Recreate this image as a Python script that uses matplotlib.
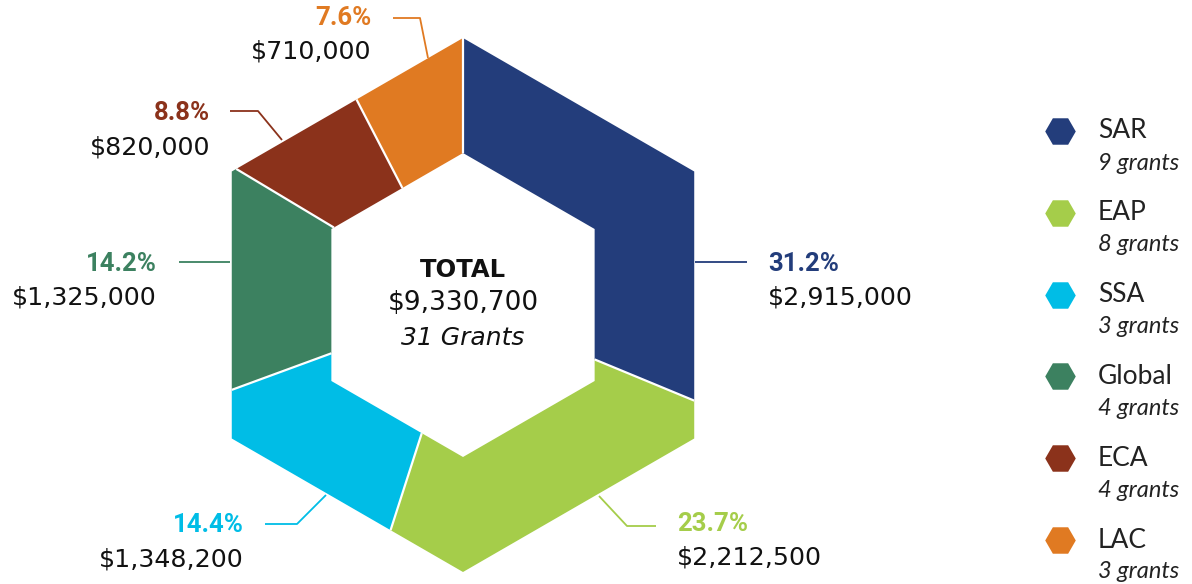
import numpy as np
import matplotlib
matplotlib.use("Agg")
import matplotlib.pyplot as plt

# ---- data ----
regions = ["SAR", "EAP", "SSA", "Global", "ECA", "LAC"]
amounts = [2915000, 2212500, 1348200, 1325000, 820000, 710000]
grants = [9, 8, 3, 4, 4, 3]
colors = ["#233D7B", "#A5CD4A", "#00BDE6", "#3C8160", "#8B321B", "#E07A22"]
total_amount = sum(amounts)
total_grants = 31

W, H = 1192, 584
fig = plt.figure(figsize=(W / 100, H / 100), dpi=100)
ax = fig.add_axes([0, 0, 1, 1])

MAIN = ["DejaVu Sans"]
PCT = ["Roboto", "DejaVu Sans"]
LEG = ["Lato", "DejaVu Sans"]

def py(y):  # pixel-from-top to data y
    return H - y

cx, cy = 463, py(305)
R_out, R_in = 267, 152


def hex_point(r, theta_deg):
    n = np.round(theta_deg / 60.0) * 60.0
    d = r * np.cos(np.deg2rad(30)) / np.cos(np.deg2rad(theta_deg - n))
    t = np.deg2rad(theta_deg)
    return cx + d * np.cos(t), cy + d * np.sin(t)


# wedge angles (clockwise from top)
fr = np.array(amounts) / total_amount
bounds = 90 - 360 * np.concatenate([[0], np.cumsum(fr)])
for i in range(len(regions)):
    a0, a1 = bounds[i], bounds[i + 1]
    angs = [a0]
    v = np.floor((a0 - 30) / 60) * 60 + 30
    if np.isclose(v, a0):
        v -= 60
    while v > a1 + 1e-9:
        angs.append(v)
        v -= 60
    angs.append(a1)
    outer = [hex_point(R_out, a) for a in angs]
    inner = [hex_point(R_in, a) for a in angs[::-1]]
    pts = outer + inner
    ax.fill([p[0] for p in pts], [p[1] for p in pts], color=colors[i], lw=0)

for a in bounds[:-1]:
    p0, p1 = hex_point(R_in, a), hex_point(R_out, a)
    ax.plot([p0[0], p1[0]], [p0[1], p1[1]], color="white", lw=1.6,
            solid_capstyle="butt")

ax.set_xlim(0, W)
ax.set_ylim(0, H)
ax.axis("off")

# ---- labels ----
pct = [f"{a / total_amount * 100:.1f}%" for a in amounts]
label_pos = {
    "SAR": (768, 264, 298, "left", [(695, 262), (747, 262)]),
    "EAP": (677, 524, 558, "left", [(599, 496), (627, 526), (656, 526)]),
    "SSA": (244, 525, 559, "right", [(326, 495), (297, 524), (265, 524)]),
    "Global": (157, 264, 298, "right", [(230, 262), (179, 262)]),
    "ECA": (210, 113, 147, "right", [(282, 140), (258, 111), (230, 111)]),
    "LAC": (371, 18, 52, "right", [(428, 58), (420, 18), (393, 18)]),
}
for i, r in enumerate(regions):
    tx, y1, y2, ha, line = label_pos[r]
    xs = [p[0] for p in line]
    ys = [py(p[1]) for p in line]
    ax.plot(xs, ys, color=colors[i], lw=1.3, solid_capstyle="butt")
    ax.text(tx, py(y1), pct[i], ha=ha, va="center", fontsize=18.5,
            fontweight="bold", color=colors[i], family=PCT)
    ax.text(tx, py(y2), f"${amounts[i]:,}", ha=ha, va="center", fontsize=18.2,
            color="#111111", family=MAIN)

# center text
ax.text(cx, py(270), "TOTAL", ha="center", va="center", fontsize=17.5,
        fontweight="bold", color="#111111", family=MAIN)
ax.text(cx, py(303), f"${total_amount:,}", ha="center", va="center",
        fontsize=19, color="#111111", family=MAIN)
ax.text(cx, py(338), f"{total_grants} Grants", ha="center", va="center",
        fontsize=18, style="italic", color="#111111", family=MAIN)

# ---- legend ----
ly0, dy = 131, 81.8
for i, r in enumerate(regions):
    y = ly0 + i * dy
    ax.plot([1060], [py(y)], marker="H", markersize=22, color=colors[i],
            markeredgewidth=0, linestyle="none")
    ax.text(1098, py(y), r, ha="left", va="center", fontsize=19,
            color="#222222", family=LEG)
    ax.text(1098, py(y + 32), f"{grants[i]} grants", ha="left", va="center",
            fontsize=17, style="italic", color="#222222", family=LEG)

fig.savefig("out.png", dpi=100, facecolor="white")
